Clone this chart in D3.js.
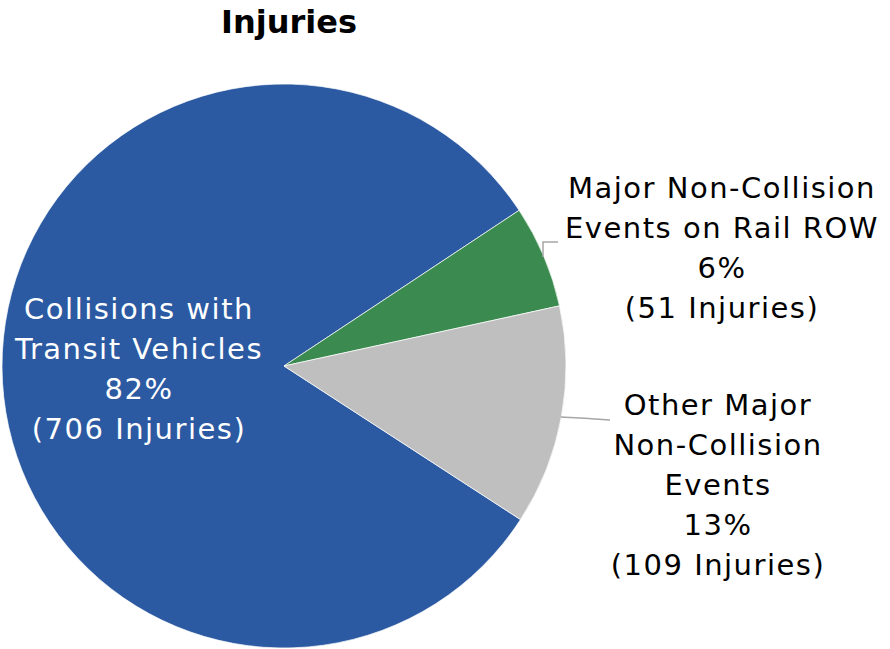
<!DOCTYPE html>
<html>
<head>
<meta charset="utf-8">
<script src="https://cdn.jsdelivr.net/npm/d3@7"></script>
<style>
  html, body { margin: 0; padding: 0; background: #fff; }
  svg { display: block; }
</style>
</head>
<body>
<svg id="chart"></svg>
<script>
// data
const categories = ["Collisions with Transit Vehicles", "Major Non-Collision Events on Rail ROW", "Other Major Non-Collision Events"];
const labelLines = [
  ["Collisions with", "Transit Vehicles"],
  ["Major Non-Collision", "Events on Rail ROW"],
  ["Other Major", "Non-Collision", "Events"]
];
const injuries = [706, 51, 109];
const colors = ["#2B5AA2", "#3B8B50", "#BFBFBF"];

const width = 890, height = 649;
const cx = 284, cy = 366, radius = 282;
const font = "'DejaVu Sans', sans-serif";

const svg = d3.select("#chart").attr("width", width).attr("height", height);

svg.append("text")
  .attr("x", 289).attr("y", 33)
  .attr("text-anchor", "middle")
  .attr("font-family", font)
  .attr("font-weight", "bold")
  .attr("font-size", "32px")
  .attr("fill", "#000")
  .text("Injuries");

const total = d3.sum(injuries);
const pct = d3.format(".0%");

// first slice starts ~123deg clockwise from 12 o'clock
const start = 123 * Math.PI / 180;
const pie = d3.pie().sort(null).value(d => d).startAngle(start).endAngle(start + 2 * Math.PI);
const arcs = pie(injuries);
const arc = d3.arc().innerRadius(0).outerRadius(radius);

const g = svg.append("g").attr("transform", `translate(${cx},${cy})`);

g.selectAll("path.slice")
  .data(arcs)
  .join("path")
  .attr("class", "slice")
  .attr("d", arc)
  .attr("fill", (d, i) => colors[i])
  .attr("stroke", "#fff")
  .attr("stroke-width", 0.7);

// leader lines (relative to pie centre)
const leaders = [
  null,
  [[259, -109], [259, -124], [274, -124]],
  [[277, 51], [300, 52], [326, 54]]
];
const line = d3.line().curve(d3.curveBasis);
g.selectAll("path.leader")
  .data(leaders.filter(d => d))
  .join("path")
  .attr("class", "leader")
  .attr("d", (d, i) => i === 0 ? d3.line()(d) : line(d))
  .attr("fill", "none")
  .attr("stroke", "#A6A6A6")
  .attr("stroke-width", 1.5);

// label anchors: first line baseline
const labelAnchor = [
  { x: 139 - cx, y: 319 - cy, color: "#fff" },
  { x: 722 - cx, y: 198 - cy, color: "#000" },
  { x: 718 - cx, y: 415 - cy, color: "#000" }
];
const lineH = 40;

arcs.forEach((a, i) => {
  const lines = labelLines[i].concat([pct(injuries[i] / total), `(${injuries[i]} Injuries)`]);
  const pos = labelAnchor[i];
  const t = g.append("text")
    .attr("text-anchor", "middle")
    .attr("font-family", font)
    .attr("font-size", "29px")
    .attr("letter-spacing", "1.5px")
    .attr("fill", pos.color);
  lines.forEach((s, k) => {
    t.append("tspan")
      .attr("x", pos.x)
      .attr("y", pos.y + k * lineH)
      .text(s);
  });
});
</script>
</body>
</html>
